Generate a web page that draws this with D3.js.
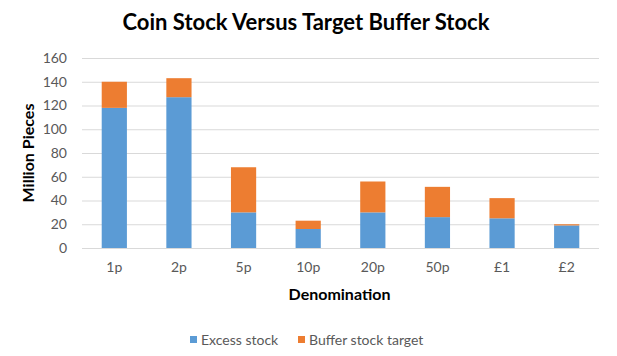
<!DOCTYPE html>
<html>
<head>
<meta charset="utf-8">
<script src="https://cdn.jsdelivr.net/npm/d3@7"></script>
<style>
html,body{margin:0;padding:0;background:#fff;}
svg{display:block;}
text{font-family:Lato,"Open Sans",sans-serif;}
</style>
</head>
<body>
<svg id="chart" width="617" height="356"></svg>
<script>
const categories = ["1p","2p","5p","10p","20p","50p","£1","£2"];
const excessStock = [118,127,30,16,30,26,25,19];
const bufferTarget = [22,16,38,7,26,25.5,17,1];
const yTicks = [0,20,40,60,80,100,120,140,160];
const seriesNames = ["Excess stock","Buffer stock target"];
const colors = ["#5B9BD5","#ED7D31"];

const svg = d3.select("#chart");
const m = {left:82, right:18, top:58, bottom:108};
const W = 617, H = 356;

const x = d3.scaleBand().domain(categories).range([m.left, W-m.right]).paddingInner(0.61).paddingOuter(0.305);
const y = d3.scaleLinear().domain([0,160]).range([H-m.bottom, m.top]);

// gridlines
svg.append("g").selectAll("line").data(yTicks).join("line")
  .attr("x1", m.left).attr("x2", W-m.right)
  .attr("y1", d=>y(d)+0.5).attr("y2", d=>y(d)+0.5)
  .attr("stroke","#D9D9D9").attr("stroke-width",1);

// y axis labels
const yAxis = d3.axisLeft(y).tickValues(yTicks).tickSize(0).tickPadding(15);
const gy = svg.append("g").attr("transform",`translate(${m.left},0)`).call(yAxis);
gy.select(".domain").remove();
gy.selectAll("text").attr("fill","#595959").style("font-size","14px").style("font-family","Lato,sans-serif");

// x axis labels
const xAxis = d3.axisBottom(x).tickSize(0).tickPadding(14);
const gx = svg.append("g").attr("transform",`translate(0,${y(0)})`).call(xAxis);
gx.select(".domain").remove();
gx.selectAll("text").attr("fill","#595959").style("font-size","14px").style("font-family","Lato,sans-serif");

// stacked bars
const data = categories.map((c,i)=>({cat:c, excess:excessStock[i], buffer:bufferTarget[i]}));
const stack = d3.stack().keys(["excess","buffer"]);
const layers = stack(data);
svg.append("g").selectAll("g").data(layers).join("g")
  .attr("fill",(d,i)=>colors[i])
  .selectAll("rect").data(d=>d).join("rect")
  .attr("x", d=>x(d.data.cat))
  .attr("width", x.bandwidth())
  .attr("y", d=>y(d[1]))
  .attr("height", d=>y(d[0])-y(d[1]));

// title
svg.append("text").attr("x",306).attr("y",30).attr("text-anchor","middle")
  .style("font-size","22px").style("font-weight","bold").attr("fill","#000")
  .text("Coin Stock Versus Target Buffer Stock");

// axis titles
svg.append("text").attr("x",(m.left+W-m.right)/2-1).attr("y",300).attr("text-anchor","middle")
  .style("font-size","16px").style("font-weight","bold").attr("fill","#000")
  .text("Denomination");
svg.append("text").attr("transform","translate(34,153) rotate(-90)").attr("text-anchor","middle")
  .style("font-size","16px").style("font-weight","bold").attr("fill","#000")
  .text("Million Pieces");

// legend
const leg = svg.append("g");
const legX = [190, 298];
seriesNames.forEach((n,i)=>{
  leg.append("rect").attr("x",legX[i]).attr("y",336).attr("width",7).attr("height",7).attr("fill",colors[i]);
  leg.append("text").attr("x",legX[i]+11).attr("y",344.5).style("font-size","14px").attr("fill","#595959").text(n);
});
</script>
</body>
</html>
